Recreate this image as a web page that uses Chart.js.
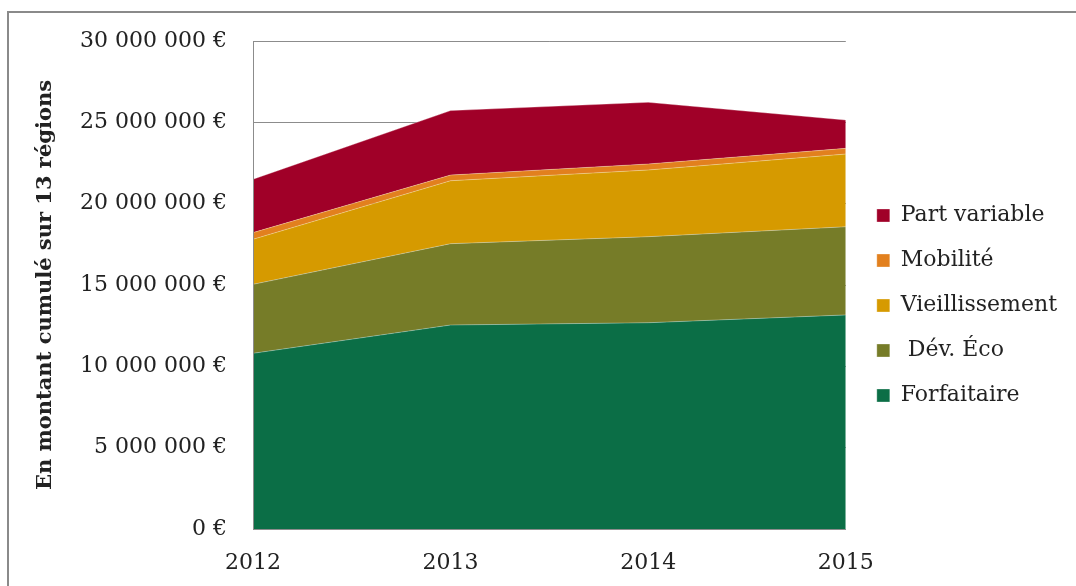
<!DOCTYPE html>
<html lang="fr">
<head>
    <meta charset="UTF-8">
    <title>Montant cumulé sur 13 régions</title>
    <script src="https://cdn.jsdelivr.net/npm/chart.js"></script>
    <style>
        html, body { margin: 0; padding: 0; background: #fff; overflow: hidden; }
        #frame {
            position: absolute; left: 7px; top: 11px; width: 2000px; height: 2000px;
            border-left: 2px solid #8a8a8a; border-top: 2px solid #8a8a8a;
        }
        #chartBox { position: absolute; left: 0; top: 0; width: 1076px; height: 586px; }
    </style>
</head>
<body>
    <div id="frame"></div>
    <div id="chartBox"><canvas id="stackChart" width="1076" height="586"></canvas></div>

    <script>
        // values (euros)
        const years = ['2012', '2013', '2014', '2015'];
        const forfaitaire = [10800000, 12540000, 12680000, 13160000];
        const devEco = [4240000, 5000000, 5290000, 5420000];
        const vieillissement = [2770000, 3870000, 4100000, 4470000];
        const mobilite = [410000, 350000, 370000, 350000];
        const partVariable = [3280000, 3960000, 3790000, 1740000];

        const fontFamily = '"DejaVu Serif", serif';
        const textColor = '#222';
        const lineGray = '#8c8c8c';

        function euro(value) {
            const s = Math.round(value).toString().replace(/\B(?=(\d{3})+(?!\d))/g, ' ');
            return s + ' €';
        }

        function area(label, data, color, fill) {
            return {
                label: label,
                data: data,
                backgroundColor: color,
                borderColor: 'rgba(255,255,255,0.3)',
                borderWidth: 1,
                fill: fill,
                pointRadius: 0,
                pointHoverRadius: 0,
                tension: 0
            };
        }

        // push the legend a few pixels away from the plot area
        const legendShift = {
            id: 'legendShift',
            afterLayout(chart) {
                chart.legend.left += 8;
                chart.legend.right += 8;
            }
        };

        const ctx = document.getElementById('stackChart').getContext('2d');
        const stackChart = new Chart(ctx, {
            type: 'line',
            data: {
                labels: years,
                datasets: [
                    area('Forfaitaire', forfaitaire, '#0b6e46', 'origin'),
                    area(' Dév. Éco', devEco, '#767c28', '-1'),
                    area('Vieillissement', vieillissement, '#d69a00', '-1'),
                    area('Mobilité', mobilite, '#e2801e', '-1'),
                    area('Part variable', partVariable, '#a00028', '-1')
                ]
            },
            plugins: [legendShift],
            options: {
                responsive: false,
                animation: false,
                layout: { padding: { left: 0, top: 41, right: 17, bottom: 16 } },
                plugins: {
                    tooltip: { enabled: false },
                    legend: {
                        position: 'right',
                        reverse: true,
                        labels: {
                            color: textColor,
                            font: { family: fontFamily, size: 22 },
                            boxWidth: 13,
                            boxHeight: 13,
                            padding: 23
                        }
                    }
                },
                scales: {
                    x: {
                        offset: false,
                        afterFit: scale => { scale.height = 41; },
                        grid: { display: false, drawTicks: false },
                        border: { display: true, color: lineGray, width: 1, z: 1 },
                        ticks: {
                            color: textColor,
                            font: { family: fontFamily, size: 22 },
                            padding: 21,
                            maxRotation: 0
                        }
                    },
                    y: {
                        stacked: true,
                        min: 0,
                        max: 30000000,
                        afterFit: scale => { scale.width = 253; },
                        grid: { color: lineGray, lineWidth: 1, drawTicks: false },
                        border: { display: true, color: lineGray, width: 1, z: 1 },
                        ticks: {
                            stepSize: 5000000,
                            color: textColor,
                            font: { family: fontFamily, size: 22 },
                            padding: 26,
                            callback: value => euro(value)
                        },
                        title: {
                            display: true,
                            text: 'En montant cumulé sur 13 régions',
                            color: textColor,
                            font: { family: fontFamily, size: 21, weight: 'bold' },
                            padding: { top: 33, bottom: 0 }
                        }
                    }
                }
            }
        });
    </script>
</body>
</html>
